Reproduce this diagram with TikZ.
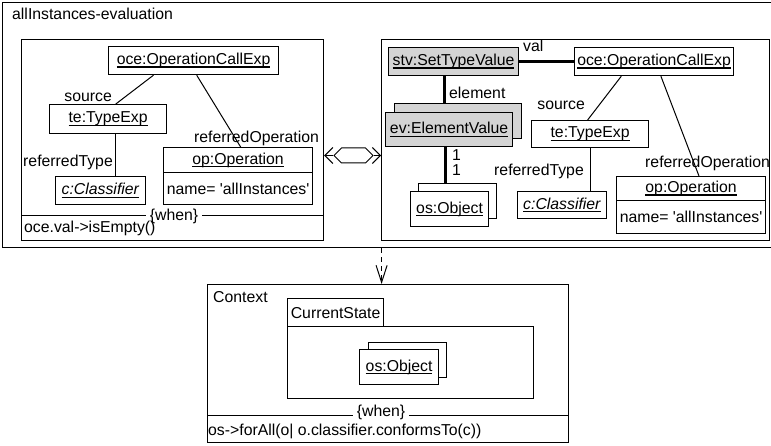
\documentclass[tikz,border=0pt]{standalone}
\usepackage{fontspec}
\setmainfont{Liberation Sans}
\usetikzlibrary{arrows.meta,shapes.symbols}
\def\objname#1{\setbox0=\hbox{#1}\rlap{\rule[-3pt]{\wd0}{1.3pt}}\box0}

\tikzset{
	frame/.style={draw, line width=1.2pt, anchor=north west, inner sep=0pt},
	obj/.style={frame, fill=white},
	valobj/.style={obj, fill=black!17},
	lbl/.style={inner sep=0pt, anchor=base west},
	link/.style={line width=1pt},
	strong/.style={line width=3.5pt},
	guard/.style={fill=white, inner xsep=4pt, inner ysep=1pt},
	barb/.style={-{Straight Barb[length=#1]}}
}

\begin{document}
\begin{tikzpicture}[x=1pt, y=-1pt, font=\fontsize{15.8}{18}\selectfont]
			%%%%% START %%%%%
			\useasboundingbox (0,0) rectangle (771,446);
			
			\node[frame, minimum width=773pt, minimum height=245pt] (outer) at (2,2) {};
			\node[lbl] (outername) at (12,20) {allInstances-evaluation};
			
			% left side
			\node[frame, minimum width=302pt, minimum height=201pt] (lpanel) at (21,39) {};
			\node[obj, minimum width=170pt, minimum height=28pt] (loce) at (108,46) {\objname{oce:OperationCallExp}};
			\node[obj, minimum width=117pt, minimum height=29pt] (lte) at (49,104) {\objname{te:TypeExp}};
			\node[obj, minimum width=90pt, minimum height=28pt] (lcls) at (55,176) {\objname{\textit{c:Classifier}}};
			\node[obj, minimum width=149pt, minimum height=25pt] (lop) at (163,147) {\objname{op:Operation}};
			\node[obj, minimum width=149pt, minimum height=32pt] (lopattr) at (163,172) {name= \textquotesingle allInstances\textquotesingle};
			
			\draw[link] (loce.200) -- (lte.63);
			\draw[link] (loce.282) -- (lop.79);
			\draw[link] ([xshift=7.5pt]lte.south) -- ([xshift=7.5pt]lte.south |- lcls.north);
			
			\node[lbl, anchor=base east] (lsrc) at (112,102) {source};
			\node[lbl] (lrefop) at (194,143) {referredOperation};
			\node[lbl, anchor=base east] (lreft) at (113,167) {referredType};
			
			\coordinate (lwhen) at (0,216);
			\draw[link] (lpanel.west |- lwhen) -- (lpanel.east |- lwhen);
			\node[guard] (lwhentxt) at (174,216) {\{when\}};
			\node[lbl] (lcond) at (24,233) {oce.val->isEmpty()};
			
			% right side
			\node[frame, minimum width=388pt, minimum height=201pt] (rpanel) at (381,39) {};
			\node[valobj, minimum width=130pt, minimum height=28pt] (rstv) at (388,47) {\objname{stv:SetTypeValue}};
			\node[obj, minimum width=159pt, minimum height=28pt] (roce) at (574,47) {\objname{oce:OperationCallExp}};
			\node[valobj, minimum width=127pt, minimum height=35pt] (revback) at (394,103) {};
			\node[valobj, minimum width=127pt, minimum height=34pt] (rev) at (385,112) {\objname{ev:ElementValue}};
			\node[obj, minimum width=78pt, minimum height=35pt] (rosback) at (418,183) {};
			\node[obj, minimum width=78pt, minimum height=35pt] (ros) at (410,191) {\objname{os:Object}};
			\node[obj, minimum width=117pt, minimum height=27pt] (rte) at (531,120) {\objname{te:TypeExp}};
			\node[obj, minimum width=89pt, minimum height=27pt] (rcls) at (517,191) {\objname{\textit{c:Classifier}}};
			\node[obj, minimum width=149pt, minimum height=24pt] (rop) at (616,176) {\objname{op:Operation}};
			\node[obj, minimum width=149pt, minimum height=33pt] (ropattr) at (616,200) {name= \textquotesingle allInstances\textquotesingle};
			
			\draw[strong] (rstv.east) -- (roce.west);
			\draw[strong] ([xshift=-9pt]rstv.south) -- ([xshift=-9pt]rstv.south |- revback.north);
			\draw[strong] ([xshift=-3.5pt]rev.south) -- ([xshift=-3.5pt]rev.south |- rosback.north);
			\draw[link] (roce.204) -- (rte.100);
			\draw[link] (roce.295) -- (rop.58);
			\draw[link] (rte.south) -- (rte.south |- rcls.north);
			
			\node[lbl] (rval) at (523,52) {val};
			\node[lbl] (relem) at (449,99) {element};
			\node[lbl] (rone) at (452,161) {1};
			\node[lbl] (rtwo) at (452,176) {1};
			\node[lbl, anchor=base east] (rsrc) at (585,110) {source};
			\node[lbl, anchor=base east] (rreft) at (584,176) {referredType};
			\node[lbl] (rrefop) at (645,168) {referredOperation};
			
			% between the two sides
			\node[draw, line width=1pt, signal, signal to=west and east, minimum width=39pt, minimum height=15pt, inner sep=0pt] (hex) at (353.5,155.5) {};
			\draw[link, barb=8pt] (hex.west) -- (lpanel.east |- hex.west);
			\draw[link, barb=8pt] (hex.east) -- (rpanel.west |- hex.east);
			
			% context
			\node[frame, minimum width=361pt, minimum height=158pt] (ctx) at (207,284) {};
			\coordinate (ctxin) at ([xshift=-6.5pt]ctx.north);
			\draw[link, dash pattern=on 5pt off 4pt, -{Straight Barb[length=17pt, width=11pt]}] (ctxin |- outer.south) -- (ctxin);
			
			\node[lbl] (ctxname) at (213,302) {Context};
			\node[frame, minimum width=96pt, minimum height=28pt] (tab) at (287,298) {CurrentState};
			\node[frame, minimum width=246pt, minimum height=72pt] (state) at (287,326) {};
			\node[obj, minimum width=78pt, minimum height=35pt] (cosback) at (368,342) {};
			\node[obj, minimum width=79pt, minimum height=35pt] (cos) at (359,349) {\objname{os:Object}};
			
			\coordinate (cwhen) at (0,415);
			\draw[link] (ctx.west |- cwhen) -- (ctx.east |- cwhen);
			\node[guard] (cwhentxt) at (381,412) {\{when\}};
			\node[lbl] (ccond) at (208,435) {os->forAll(o| o.classifier.conformsTo(c))};
			
			%%%%% END %%%%%
\end{tikzpicture}
\end{document}
